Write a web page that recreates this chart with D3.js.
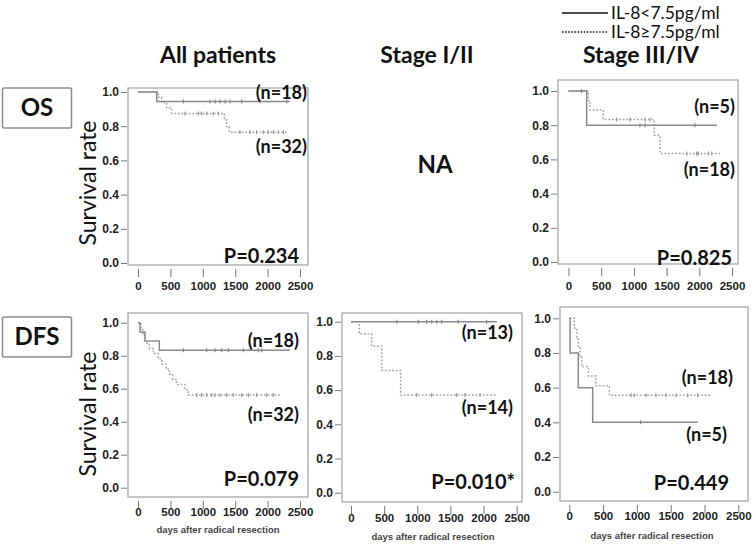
<!DOCTYPE html>
<html><head><meta charset="utf-8">
<script src="https://cdn.jsdelivr.net/npm/d3@7"></script>
<style>body{margin:0;background:#fff} svg{display:block}</style>
</head><body>
<svg id="c" width="753" height="545"></svg>
<script>
// ---------- data ----------
const xTicks = [0, 500, 1000, 1500, 2000, 2500];
const yTicks = [0, 0.2, 0.4, 0.6, 0.8, 1.0];
const rowLabels = ["OS", "DFS"];
const colTitles = ["All patients", "Stage I/II", "Stage III/IV"];
const legendLabels = ["IL-8<7.5pg/ml", "IL-8≥7.5pg/ml"];
const xAxisTitle = "days after radical resection";
const yAxisTitle = "Survival rate";
const naLabel = "NA";

// OS – all patients
const osAllLowTimes = [288];
const osAllLowSurv = [0.944];
const osAllLowEnd = 2345;
const osAllLowCens = [700, 1110, 1190, 1265, 1345, 1420, 1600, 1885, 2295];
const osAllHighTimes = [314, 365, 442, 519, 1332, 1368, 1409];
const osAllHighSurv = [0.969, 0.938, 0.906, 0.875, 0.836, 0.797, 0.764];
const osAllHighEnd = 2320;
const osAllHighCens = [725, 931, 983, 1060, 1163, 1240, 1574, 1728, 1831, 1934, 2011, 2088, 2165, 2243];
const osAllN = ["(n=18)", "(n=32)"]; const osAllP = "P=0.234";

// OS – stage III/IV
const osAdvLowTimes = [278];
const osAdvLowSurv = [0.8];
const osAdvLowEnd = 2266;
const osAdvLowCens = [200, 1093, 1170, 1934];
const osAdvHighTimes = [303, 329, 532, 1312, 1399];
const osAdvHighSurv = [0.944, 0.889, 0.833, 0.741, 0.635];
const osAdvHighEnd = 2317;
const osAdvHighCens = [737, 940, 1170, 1246, 1807, 1960, 1985, 2137, 2190];
const osAdvN = ["(n=5)", "(n=18)"]; const osAdvP = "P=0.825";

// DFS – all patients
const dfsAllLowTimes = [31, 108, 329];
const dfsAllLowSurv = [0.944, 0.889, 0.833];
const dfsAllLowEnd = 2345;
const dfsAllLowCens = [700, 1060, 1188, 1291, 1394, 1626, 1857, 1909];
const dfsAllHighTimes = [46, 72, 98, 123, 175, 237, 314, 366, 433, 484, 535, 597, 725, 777];
const dfsAllHighSurv = [0.969, 0.938, 0.906, 0.875, 0.844, 0.813, 0.781, 0.75, 0.719, 0.688, 0.656, 0.625, 0.594, 0.5625];
const dfsAllHighEnd = 2191;
const dfsAllHighCens = [906, 983, 1060, 1137, 1188, 1265, 1368, 1471, 1600, 1703, 1831, 1986, 2088];
const dfsAllN = ["(n=18)", "(n=32)"]; const dfsAllP = "P=0.079";

// DFS – stage I/II
const dfsEarlyLowTimes = [];
const dfsEarlyLowSurv = [];
const dfsEarlyLowEnd = 2200;
const dfsEarlyLowCens = [692, 1016, 1142, 1217, 1293, 1368, 1619, 2047];
const dfsEarlyHighTimes = [126, 312, 463, 749];
const dfsEarlyHighSurv = [0.929, 0.857, 0.714, 0.571];
const dfsEarlyHighEnd = 2200;
const dfsEarlyHighCens = [990, 1217, 1594, 1720, 1946];
const dfsEarlyN = ["(n=13)", "(n=14)"]; const dfsEarlyP = "P=0.010*";

// DFS – stage III/IV
const dfsAdvLowTimes = [12, 133, 346];
const dfsAdvLowSurv = [0.8, 0.6, 0.4];
const dfsAdvLowEnd = 1900;
const dfsAdvLowCens = [1056];
const dfsAdvHighTimes = [74, 113, 133, 158, 183, 281, 395, 592];
const dfsAdvHighSurv = [0.944, 0.889, 0.833, 0.778, 0.722, 0.667, 0.611, 0.556];
const dfsAdvHighEnd = 2096;
const dfsAdvHighCens = [913, 962, 1135, 1283, 1431, 1579, 1751, 1899];
const dfsAdvN = ["(n=18)", "(n=5)"]; const dfsAdvP = "P=0.449";

// ---------- layout ----------
const svg = d3.select("#c");
const TXT = "#111";
const FONT = "Lato, 'Open Sans', sans-serif";
const TICKFONT = "'Liberation Sans', Arial, sans-serif";

function curve(times, surv, end, cens) {
  const pts = [[0, 1]];
  times.forEach((t, i) => pts.push([t, surv[i]]));
  pts.push([end, surv.length ? surv[surv.length - 1] : 1]);
  const sAt = t => { let s = 1; times.forEach((tt, i) => { if (tt <= t) s = surv[i]; }); return s; };
  return { pts, cens: cens.map(t => [t, sAt(t)]) };
}

const panels = [
  { frame: [128, 88, 308, 265], xr: [138, 300], yr: [263, 92], showTitle: false,
    low: curve(osAllLowTimes, osAllLowSurv, osAllLowEnd, osAllLowCens),
    high: curve(osAllHighTimes, osAllHighSurv, osAllHighEnd, osAllHighCens),
    labels: [[osAllN[0], 307, 93], [osAllN[1], 307, 147]], p: [osAllP, 299, 256], tickLabelY: 290 },
  { frame: [558, 80, 738, 264], xr: [568.5, 732], yr: [262, 91], showTitle: false,
    low: curve(osAdvLowTimes, osAdvLowSurv, osAdvLowEnd, osAdvLowCens),
    high: curve(osAdvHighTimes, osAdvHighSurv, osAdvHighEnd, osAdvHighCens),
    labels: [[osAdvN[0], 735, 107], [osAdvN[1], 735, 170]], p: [osAdvP, 732, 258], tickLabelY: 290 },
  { frame: [128, 313, 308, 497], xr: [138, 300], yr: [487.7, 322.7], showTitle: true, titleY: 533, titleX: 218,
    low: curve(dfsAllLowTimes, dfsAllLowSurv, dfsAllLowEnd, dfsAllLowCens),
    high: curve(dfsAllHighTimes, dfsAllHighSurv, dfsAllHighEnd, dfsAllHighCens),
    labels: [[dfsAllN[0], 299, 341], [dfsAllN[1], 299, 415]], p: [dfsAllP, 299, 479], tickLabelY: 516 },
  { frame: [342, 313, 522, 502], xr: [351, 516.7], yr: [492.7, 321.7], showTitle: true, titleY: 540, titleX: 433,
    low: curve(dfsEarlyLowTimes, dfsEarlyLowSurv, dfsEarlyLowEnd, dfsEarlyLowCens),
    high: curve(dfsEarlyHighTimes, dfsEarlyHighSurv, dfsEarlyHighEnd, dfsEarlyHighCens),
    labels: [[dfsEarlyN[0], 513, 333], [dfsEarlyN[1], 513, 408]], p: [dfsEarlyP, 515, 482], tickLabelY: 522 },
  { frame: [560, 307, 748, 501], xr: [569.3, 738.3], yr: [491.7, 318.3], showTitle: true, titleY: 539, titleX: 652,
    low: curve(dfsAdvLowTimes, dfsAdvLowSurv, dfsAdvLowEnd, dfsAdvLowCens),
    high: curve(dfsAdvHighTimes, dfsAdvHighSurv, dfsAdvHighEnd, dfsAdvHighCens),
    labels: [[dfsAdvN[0], 733, 378], [dfsAdvN[1], 727, 435]], p: [dfsAdvP, 729, 483], tickLabelY: 520 }
];

panels.forEach(P => {
  const [l, t, r, b] = P.frame;
  const x = d3.scaleLinear().domain([0, 2500]).range(P.xr);
  const y = d3.scaleLinear().domain([0, 1]).range(P.yr);
  const g = svg.append("g");
  g.append("rect").attr("x", l).attr("y", t).attr("width", r - l).attr("height", b - t)
    .attr("fill", "none").attr("stroke", "#a8a8a8").attr("stroke-width", 1.3);

  // y axis
  const ya = g.append("g").attr("transform", `translate(${l - 1},0)`)
    .call(d3.axisLeft(y).tickValues(yTicks).tickFormat(d3.format(".1f")).tickSize(6).tickPadding(2));
  ya.select(".domain").remove();
  ya.selectAll(".tick line").attr("stroke", "#777");
  ya.selectAll(".tick text").attr("font-family", TICKFONT).attr("font-weight", "bold")
    .attr("font-size", 12).attr("fill", "#222");

  // x axis
  const xa = g.append("g").attr("transform", `translate(0,${b + 4})`)
    .call(d3.axisBottom(x).tickValues(xTicks).tickFormat(d3.format("d")).tickSize(8).tickPadding(3));
  xa.select(".domain").remove();
  xa.selectAll(".tick line").attr("stroke", "#777");
  xa.selectAll(".tick text").attr("font-family", TICKFONT).attr("font-weight", "bold")
    .attr("font-size", 11.5).attr("fill", "#222").attr("y", null).attr("dy", null)
    .attr("transform", `translate(0,${P.tickLabelY - b - 4})`);

  if (P.showTitle) {
    g.append("text").attr("x", P.titleX).attr("y", P.titleY).attr("text-anchor", "middle")
      .attr("font-family", TICKFONT).attr("font-weight", "bold").attr("font-size", 9.5)
      .attr("fill", "#444").text(xAxisTitle);
  }

  const line = d3.line().x(d => x(d[0])).y(d => y(d[1])).curve(d3.curveStepAfter);
  g.append("path").attr("d", line(P.high.pts)).attr("fill", "none")
    .attr("stroke", "#a5a5a5").attr("stroke-width", 1.5).attr("stroke-dasharray", "1.8,1.8");
  g.append("path").attr("d", line(P.low.pts)).attr("fill", "none")
    .attr("stroke", "#8a8a8a").attr("stroke-width", 1.5);
  [P.high, P.low].forEach((c, i) => {
    g.selectAll(null).data(c.cens).enter().append("line")
      .attr("x1", d => x(d[0])).attr("x2", d => x(d[0]))
      .attr("y1", d => y(d[1]) - 2).attr("y2", d => y(d[1]) + 2)
      .attr("stroke", i ? "#888" : "#999").attr("stroke-width", 1.2);
  });

  P.labels.forEach(([txt, lx, ly]) => {
    g.append("text").attr("x", lx).attr("y", ly).attr("dy", "0.35em").attr("text-anchor", "end")
      .attr("font-family", FONT).attr("font-weight", "bold").attr("font-size", 18).attr("fill", TXT).text(txt);
  });
  g.append("text").attr("x", P.p[1]).attr("y", P.p[2]).attr("dy", "0.35em").attr("text-anchor", "end")
    .attr("font-family", FONT).attr("font-weight", "bold").attr("font-size", 20).attr("fill", TXT).text(P.p[0]);
});

// column titles
const titleX = [218, 427, 641];
colTitles.forEach((tt, i) => {
  svg.append("text").attr("x", titleX[i]).attr("y", 63).attr("text-anchor", "middle")
    .attr("font-family", FONT).attr("font-weight", "bold").attr("font-size", 23).attr("fill", TXT).text(tt);
});

// NA
svg.append("text").attr("x", 435).attr("y", 165).attr("dy", "0.35em").attr("text-anchor", "middle")
  .attr("font-family", FONT).attr("font-weight", "bold").attr("font-size", 24).attr("fill", TXT).text(naLabel);

// row label boxes
const rowBoxY = [88, 317];
rowLabels.forEach((lab, i) => {
  svg.append("rect").attr("x", 2.5).attr("y", rowBoxY[i]).attr("width", 69).attr("height", 40).attr("rx", 1.5)
    .attr("fill", "#fff").attr("stroke", "#8c8c8c").attr("stroke-width", 1.5);
  svg.append("text").attr("x", 37).attr("y", rowBoxY[i] + 20).attr("dy", "0.35em").attr("text-anchor", "middle")
    .attr("font-family", FONT).attr("font-weight", "bold").attr("font-size", 24).attr("fill", TXT).text(lab);
});

// y axis titles
[183, 414].forEach(cy => {
  svg.append("text").attr("transform", `translate(88,${cy}) rotate(-90)`).attr("dy", "0.35em")
    .attr("text-anchor", "middle").attr("font-family", FONT).attr("font-size", 23).attr("fill", TXT).text(yAxisTitle);
});

// legend
const legY = [13, 32];
legendLabels.forEach((lab, i) => {
  svg.append("line").attr("x1", 562).attr("x2", 608).attr("y1", legY[i]).attr("y2", legY[i])
    .attr("stroke", "#111").attr("stroke-width", 1.6).attr("stroke-dasharray", i ? "1.5,1.6" : null);
  svg.append("text").attr("x", 611).attr("y", legY[i]).attr("dy", "0.35em")
    .attr("font-family", FONT).attr("font-size", 17.5).attr("fill", TXT).text(lab);
});
</script>
</body></html>
